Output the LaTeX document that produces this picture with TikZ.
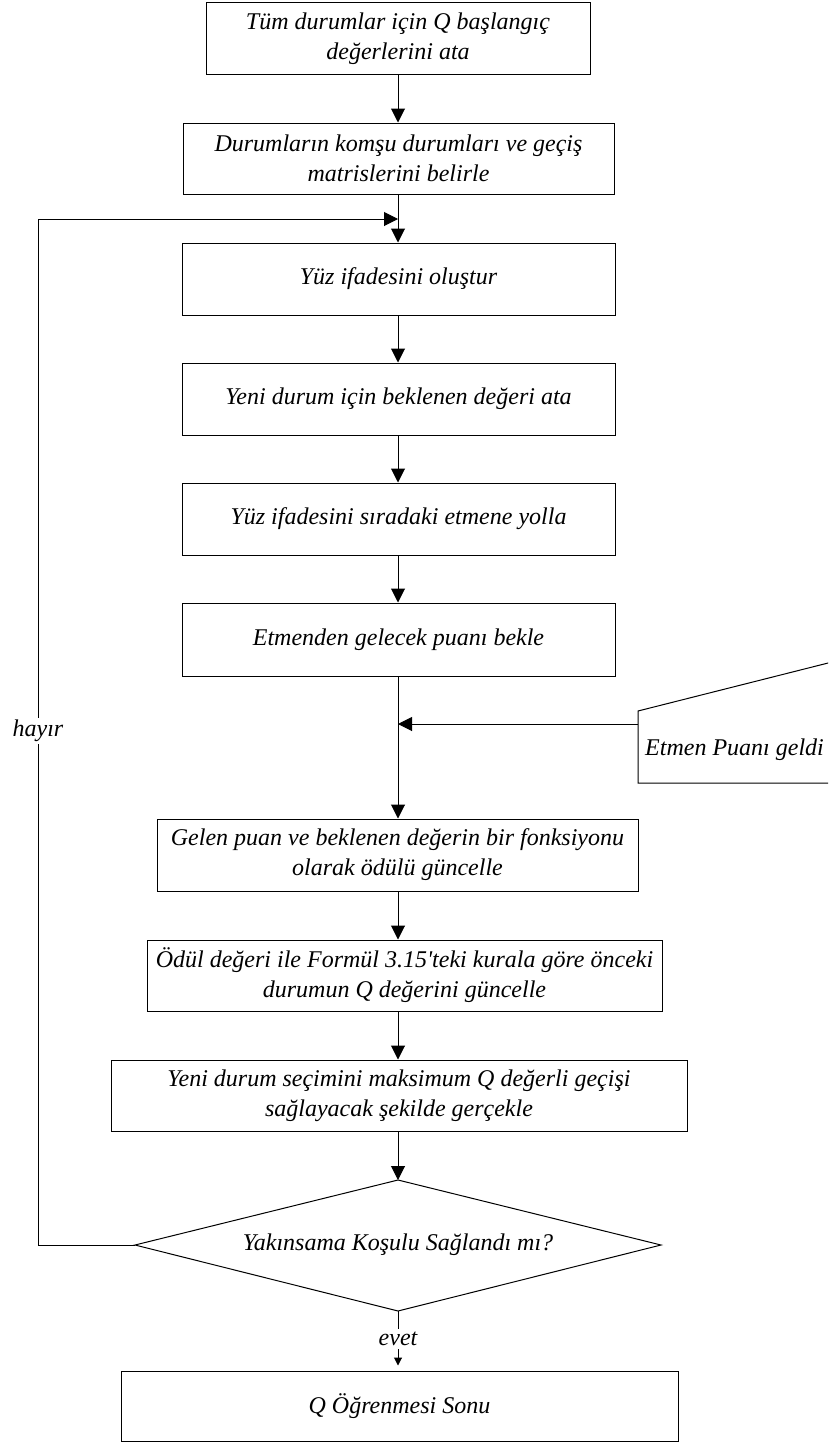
\documentclass[tikz,border=0pt]{standalone}
\usepackage{fontspec}
\setmainfont{Liberation Serif}[Ligatures=TeXOff]
\usetikzlibrary{arrows.meta}

\begin{document}
\begin{tikzpicture}[x=1pt,y=-1pt,
  txt/.style={font=\fontsize{24}{30}\selectfont\itshape, align=center},
  box/.style={txt, draw, line width=1pt, inner sep=0pt},
  arr/.style={line width=1pt, -{Triangle[length=14pt,width=14pt]}},
  smallarr/.style={line width=1pt, -{Triangle[length=8pt,width=8pt]}},
  lbl/.style={txt, fill=white, inner sep=2pt}]
\useasboundingbox (0,0) rectangle (828,1445);

% process steps
\node[box, minimum width=384pt, minimum height=71pt] (b1) at (398,38.5)
  {Tüm durumlar için Q başlangıç\\değerlerini ata};
\node[box, minimum width=431pt, minimum height=71pt] (b2) at (398.5,158.5)
  {Durumların komşu durumları ve geçiş\\matrislerini belirle};
\node[box, minimum width=433pt, minimum height=72pt] (b3) at (398.5,279)
  {Yüz ifadesini oluştur};
\node[box, minimum width=433pt, minimum height=72pt] (b4) at (398.5,399)
  {Yeni durum için beklenen değeri ata};
\node[box, minimum width=433pt, minimum height=72pt] (b5) at (398.5,519)
  {Yüz ifadesini sıradaki etmene yolla};
\node[box, minimum width=433pt, minimum height=73pt] (b6) at (398.5,639.5)
  {Etmenden gelecek puanı bekle};
\node[box, minimum width=481pt, minimum height=72pt] (b7) at (397.5,855)
  {Gelen puan ve beklenen değerin bir fonksiyonu\\olarak ödülü güncelle};
\node[box, minimum width=515pt, minimum height=71pt] (b8) at (404.5,975.5)
  {Ödül değeri ile Formül 3.15'teki kurala göre önceki\\durumun Q değerini güncelle};
\node[box, minimum width=576pt, minimum height=71pt] (b9) at (399,1095.5)
  {Yeni durum seçimini maksimum Q değerli geçişi\\sağlayacak şekilde gerçekle};

% decision
\coordinate (dN) at (398,1180);
\coordinate (dW) at (135,1245);
\coordinate (dE) at (661,1245);
\coordinate (dS) at (398,1311);
\draw[line width=1pt] (dN) -- (dE) -- (dS) -- (dW) -- cycle;
\node[txt] (dec) at (398,1245) {Yakınsama Koşulu Sağlandı mı?};

\node[box, minimum width=557pt, minimum height=70pt] (b10) at (399.5,1406)
  {Q Öğrenmesi Sonu};

% external input (manual input shape running off the right edge)
\begin{scope}
  \clip (0,0) rectangle (828,1445);
  \draw[line width=1pt] (638,711) -- (880,649.9) -- (880,783) -- (638,783) -- cycle;
\end{scope}
\node[txt, anchor=base west, inner sep=0pt] (ext) at (645,755) {Etmen Puanı geldi};
\coordinate (extW) at (638,724);

% main flow
\coordinate (merge) at (398,219);
\coordinate (join) at (398,724);
\draw[arr] (b1.south -| dN) -- (b2.north -| dN);
\draw[arr] (b2.south -| dN) -- (b3.north -| dN);
\draw[arr] (b3.south -| dN) -- (b4.north -| dN);
\draw[arr] (b4.south -| dN) -- (b5.north -| dN);
\draw[arr] (b5.south -| dN) -- (b6.north -| dN);
\draw[arr] (b6.south -| dN) -- (b7.north -| dN);
\draw[arr] (extW) -- (join);
\draw[arr] (b7.south -| dN) -- (b8.north -| dN);
\draw[arr] (b8.south -| dN) -- (b9.north -| dN);
\draw[arr] (b9.south -| dN) -- (dN);

% loop back when not converged
\coordinate (fbA) at (38,1245);
\coordinate (fbB) at (38,219);
\draw[arr] (dW) -- (fbA) -- (fbB) -- (merge);
\node[lbl] (no) at (38,731) {hayır};

% exit when converged
\draw[smallarr, shorten >=5pt] (dS) -- (b10.north -| dS);
\node[lbl, inner sep=3pt] (yes) at (398,1339) {evet};
\end{tikzpicture}
\end{document}
